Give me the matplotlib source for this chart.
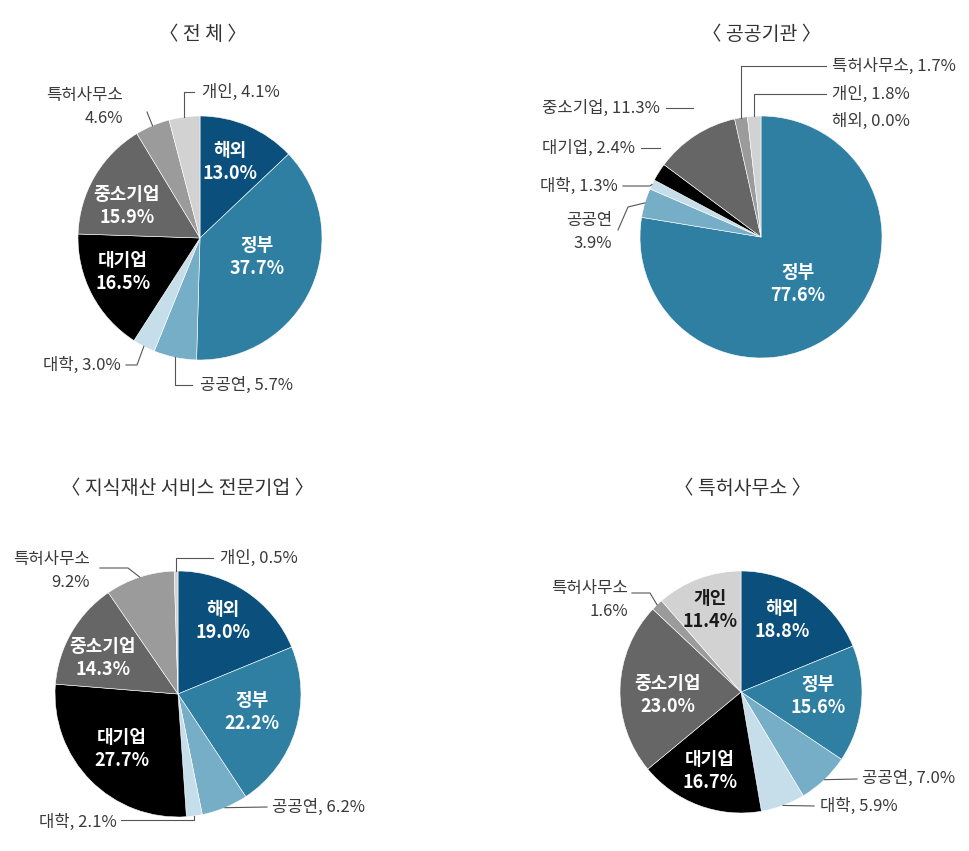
import numpy as np
import matplotlib.pyplot as plt
from matplotlib.colors import to_rgb

plt.rcParams['font.family'] = ['Noto Sans CJK KR', 'DejaVu Sans']

# data
categories = ['해외', '정부', '공공연', '대학', '대기업', '중소기업', '특허사무소', '개인']
titles = ['〈 전 체 〉', '〈 공공기관 〉', '〈 지식재산 서비스 전문기업 〉', '〈 특허사무소 〉']
share_total = [13.0, 37.7, 5.7, 3.0, 16.5, 15.9, 4.6, 4.1]
share_public = [0.0, 77.6, 3.9, 1.3, 2.4, 11.3, 1.7, 1.8]
share_ipfirm = [19.0, 22.2, 6.2, 2.1, 27.7, 14.3, 9.2, 0.5]
share_patent = [18.8, 15.6, 7.0, 5.9, 16.7, 23.0, 1.6, 11.4]
series = [share_total, share_public, share_ipfirm, share_patent]

colors = ['#0b4f7c', '#2f7fa3', '#76adc7', '#c6dee9', '#000000', '#666666', '#9b9b9b', '#d2d2d2']

W, H = 969, 851
TXT = '#3a3a3a'
LINE = '#555555'

# layout in pixels (y measured from the top)
# inside: idx -> (x, y);  outside: idx -> (two_line, x, y, ha, leader)
layout = [
    dict(center=(200, 238), r=122, title=(203, 34),
         inside={0: (230, 162), 1: (257, 257), 5: (127, 206), 4: (123, 272)},
         outside={6: (True, 123, 107, 'right', ('p', [(147, 112)])),
                  7: (False, 202, 92, 'left', ('v', 92, 194)),
                  3: (False, 121, 365, 'right', ('p', [(137, 365), (126, 365)])),
                  2: (False, 200, 385, 'left', ('v', 385, 192))}),
    dict(center=(761, 237), r=121, title=(762, 34),
         inside={1: (798, 284)},
         outside={6: (False, 832, 66, 'left', ('v', 66, 826)),
                  7: (False, 832, 94, 'left', ('v', 94, 826)),
                  0: (False, 832, 121, 'left', None),
                  5: (False, 660, 108, 'right', ('free', [(666, 108), (693, 108)])),
                  4: (False, 635, 148, 'right', ('free', [(641, 148), (660, 148)])),
                  3: (False, 618, 186, 'right', ('p', [(650, 186), (623, 186)])),
                  2: (True, 612, 232, 'right', ('p', [(628, 207), (618, 230)]))}),
    dict(center=(178, 694), r=123, title=(188, 488),
         inside={0: (223, 621), 1: (252, 712), 5: (103, 658), 4: (122, 749)},
         outside={6: (True, 90, 571, 'right', ('p', [(128, 568), (100, 568)])),
                  7: (False, 220, 558, 'left', ('v', 558, 213)),
                  2: (False, 272, 807, 'left', ('p', [(267, 807)])),
                  3: (False, 117, 822, 'right', ('v', 820, 121))}),
    dict(center=(741, 692), r=121, title=(743, 488),
         inside={7: (710, 610), 0: (782, 620), 1: (818, 696), 5: (668, 695), 4: (710, 771)},
         outside={6: (True, 628, 600, 'right', ('p', [(650, 593), (632, 593)])),
                  2: (False, 862, 778, 'left', ('p', [(857, 779)])),
                  3: (False, 820, 806, 'left', ('p', [(814, 806)]))}),
]

fig = plt.figure(figsize=(W / 100, H / 100), dpi=100)
ax = fig.add_axes([0, 0, 1, 1])

for vals, title, lay in zip(series, titles, layout):
    cx, cy = lay['center']
    r = lay['r']
    wedges, _ = ax.pie(vals, colors=colors, startangle=90, counterclock=False,
                       center=(cx, H - cy), radius=r,
                       wedgeprops=dict(edgecolor='white', linewidth=0.4))

    ax.text(lay['title'][0], H - lay['title'][1], title, ha='center', va='center',
            fontsize=14, color='#333333', fontweight='medium')

    for i, (x, y) in lay['inside'].items():
        light = np.mean(to_rgb(colors[i])) > 0.7
        ax.text(x, H - y, f"{categories[i]}\n{vals[i]:.1f}%", ha='center', va='center',
                fontsize=13, color='#1a1a1a' if light else 'white',
                fontweight='bold', linespacing=1.3)

    for i, (two, x, y, ha, leader) in lay['outside'].items():
        sep = '\n' if two else ', '
        ax.text(x, H - y, f"{categories[i]}{sep}{vals[i]:.1f}%", ha=ha, va='center',
                multialignment=ha, fontsize=12, color=TXT, linespacing=1.45)
        if leader is None:
            continue
        w = wedges[i]
        mid = np.deg2rad((w.theta1 + w.theta2) / 2)
        axp = cx + r * np.cos(mid)
        ayp = (H - cy) + r * np.sin(mid)
        kind = leader[0]
        if kind == 'v':
            xs = [axp, axp, leader[2]]
            ys = [ayp, H - leader[1], H - leader[1]]
        elif kind == 'p':
            xs = [axp] + [p[0] for p in leader[1]]
            ys = [ayp] + [H - p[1] for p in leader[1]]
        else:
            xs = [p[0] for p in leader[1]]
            ys = [H - p[1] for p in leader[1]]
        ax.plot(xs, ys, color=LINE, lw=0.8)

ax.set_xlim(0, W)
ax.set_ylim(0, H)
ax.set_aspect('auto')
ax.axis('off')

fig.savefig('out.png', dpi=100, facecolor='white')
